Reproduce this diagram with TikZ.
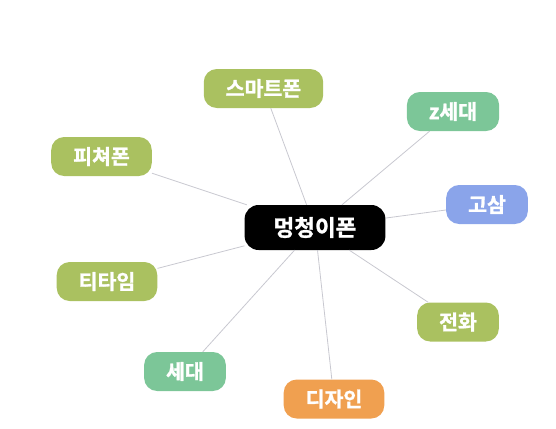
\documentclass[tikz,border=0pt]{standalone}
\usepackage{fontspec}
\newfontfamily\kofont{Noto Sans CJK KR Bold}[FakeBold=1.3]
\definecolor{olive}{RGB}{170,193,96}
\definecolor{mint}{RGB}{124,198,152}
\definecolor{sky}{RGB}{138,164,234}
\definecolor{peach}{RGB}{240,160,80}
\definecolor{wire}{RGB}{200,200,208}
\tikzset{
  idea/.style={rounded corners=13pt,inner xsep=22pt,inner ysep=0pt,minimum height=39pt,
    text=white,font=\kofont\fontsize{20.5pt}{22pt}\selectfont},
  hub/.style={idea,fill=black,rounded corners=14pt,inner xsep=29pt,minimum height=45pt,
    font=\kofont\fontsize{22.5pt}{24pt}\selectfont},
  link/.style={wire,line width=0.8pt}
}
\begin{document}
\begin{tikzpicture}[x=1pt,y=-1pt]
  \useasboundingbox (0,0) rectangle (556,428);
  % centre
  \node[hub] (phone) at (315,227.5) {멍청이폰};
  % branches
  \node[idea,fill=olive] (smart) at (263.5,88.5) {스마트폰};
  \node[idea,fill=mint]  (zgen)  at (453,111.5) {z세대};
  \node[idea,fill=sky]   (exam)  at (487,204.5) {고삼};
  \node[idea,fill=olive] (call)  at (458,322) {전화};
  \node[idea,fill=peach] (design) at (334,399) {디자인};
  \node[idea,fill=mint]  (gen)   at (185,371.5) {세대};
  \node[idea,fill=olive] (tea)   at (107,281.5) {티타임};
  \node[idea,fill=olive] (feat)  at (101.5,156.5) {피쳐폰};
  % links (drawn last, they stop at the box edges)
  \foreach \n in {smart,zgen,exam,call,design,gen,tea,feat}
    \draw[link] (phone) -- (\n);
\end{tikzpicture}
\end{document}
